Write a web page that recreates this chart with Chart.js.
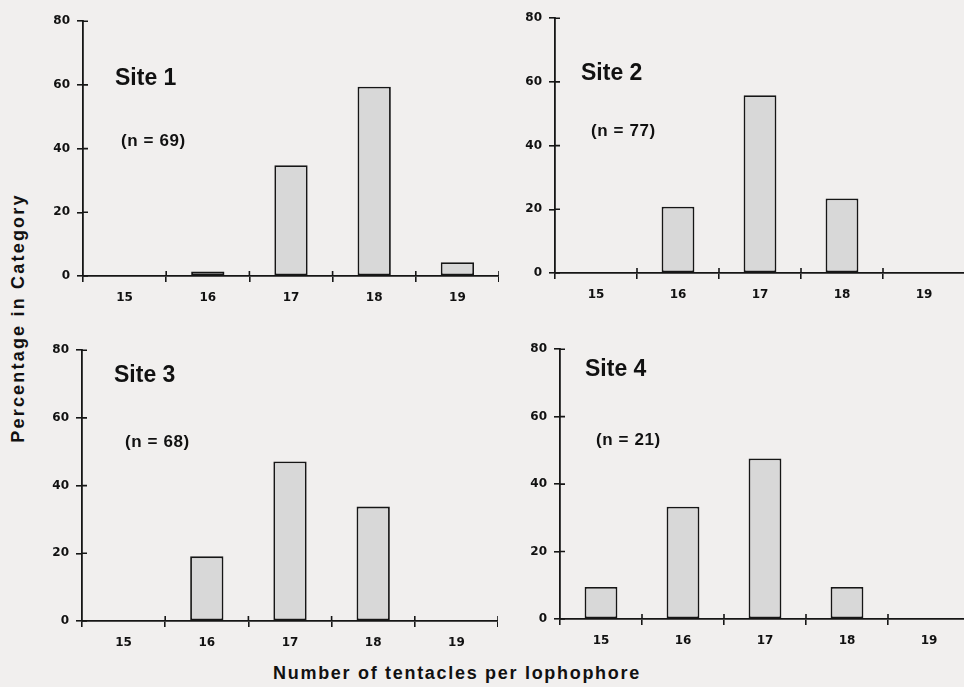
<!DOCTYPE html>
<html>
<head>
<meta charset="utf-8">
<script src="https://cdn.jsdelivr.net/npm/chart.js@4.4.1/dist/chart.umd.min.js"></script>
<style>
  html, body { margin:0; padding:0; width:964px; height:687px; overflow:hidden; background:#f1efee; }
  .panel { position:absolute; }
  .txt { position:absolute; font-family:"Liberation Sans", Arial, sans-serif; font-weight:bold; color:#111; line-height:1; white-space:nowrap; transform:translateY(-50%); }
  .site { font-size:23px; }
  .n { font-size:17px; letter-spacing:0.6px; }
  #ytitle { position:absolute; left:18px; top:318px; transform:translate(-50%,-50%) rotate(-90deg); font-family:"Liberation Sans", Arial, sans-serif; font-weight:bold; font-size:18px; letter-spacing:2.2px; color:#111; white-space:nowrap; }
  #xtitle { position:absolute; left:457px; top:673px; transform:translate(-50%,-50%); font-family:"Liberation Sans", Arial, sans-serif; font-weight:bold; font-size:18px; letter-spacing:1.7px; color:#111; white-space:nowrap; }
</style>
</head>
<body>
<script>
// ---- data ----
const categories = ['15', '16', '17', '18', '19'];
const site1 = [0, 1.4, 34.8, 59.4, 4.3];
const site2 = [0, 20.8, 55.8, 23.4, 0];
const site3 = [0, 19.1, 47.1, 33.8, 0];
const site4 = [9.5, 33.3, 47.6, 9.5, 0];
const siteNames = ['Site 1', 'Site 2', 'Site 3', 'Site 4'];
const sampleSizes = ['(n = 69)', '(n = 77)', '(n = 68)', '(n = 21)'];
const yTicks = [0, 20, 40, 60, 80];

// ---- layout (positions/sizes) ----
const Y_W = 52, X_H = 40, PAD_T = 10;
const panels = [
  { data: site1, L: 31,  T: 7,   W: 468, H: 309, site: [115, 77],  n: [121, 140] },
  { data: site2, L: 503, T: 4,   W: 462, H: 309, site: [581, 72],  n: [591, 130] },
  { data: site3, L: 30,  T: 336, W: 468, H: 325, site: [114, 374], n: [125, 441] },
  { data: site4, L: 508, T: 335, W: 462, H: 324, site: [585, 368], n: [596, 439] }
];

const INK = '#161616';

const crossTicks = {
  id: 'crossTicks',
  afterDraw(chart) {
    const ctx = chart.ctx, x = chart.scales.x, y = chart.scales.y, a = chart.chartArea;
    ctx.save();
    ctx.strokeStyle = INK;
    ctx.lineWidth = 1.6;
    ctx.beginPath();
    y.ticks.forEach(t => {
      const py = y.getPixelForValue(t.value);
      ctx.moveTo(a.left, py); ctx.lineTo(a.left + 5, py);
    });
    const n = x.ticks.length;
    const step = (a.right - a.left) / n;
    for (let i = 1; i <= n; i++) {
      const px = a.left + i * step;
      ctx.moveTo(px, a.bottom); ctx.lineTo(px, a.bottom - 5);
    }
    ctx.stroke();
    ctx.restore();
  }
};

const tickFont = { family: '"DejaVu Sans", sans-serif', weight: 'bold', size: 12 };

panels.forEach((p, i) => {
  const div = document.createElement('div');
  div.className = 'panel';
  div.style.left = p.L + 'px'; div.style.top = p.T + 'px';
  div.style.width = p.W + 'px'; div.style.height = p.H + 'px';
  const cv = document.createElement('canvas');
  div.appendChild(cv);
  document.body.appendChild(div);

  new Chart(cv, {
    type: 'bar',
    data: {
      labels: categories,
      datasets: [{
        data: p.data,
        backgroundColor: '#d8d8d8',
        borderColor: INK,
        borderWidth: 1.8,
        borderSkipped: false,
        barPercentage: 0.4,
        categoryPercentage: 1.0
      }]
    },
    options: {
      responsive: true,
      maintainAspectRatio: false,
      animation: false,
      layout: { padding: { top: PAD_T, right: 0, left: 0, bottom: 0 } },
      plugins: { legend: { display: false }, tooltip: { enabled: false } },
      scales: {
        x: {
          offset: true,
          grid: { display: true, offset: true, drawOnChartArea: false, drawTicks: true, tickLength: 6, color: INK, lineWidth: 1.6 },
          border: { display: true, color: INK, width: 1.8 },
          ticks: { font: tickFont, color: '#111', padding: 9, maxRotation: 0 },
          afterFit(s) { s.height = X_H; }
        },
        y: {
          min: 0, max: 80,
          afterBuildTicks(s) { s.ticks = yTicks.map(v => ({ value: v })); },
          grid: { display: true, drawOnChartArea: false, drawTicks: true, tickLength: 6, color: INK, lineWidth: 1.6 },
          border: { display: true, color: INK, width: 1.8 },
          ticks: { font: tickFont, color: '#111', padding: 7 },
          afterFit(s) { s.width = Y_W; }
        }
      }
    },
    plugins: [crossTicks]
  });

  const s = document.createElement('div');
  s.className = 'txt site';
  s.textContent = siteNames[i];
  s.style.left = p.site[0] + 'px'; s.style.top = p.site[1] + 'px';
  document.body.appendChild(s);

  const n = document.createElement('div');
  n.className = 'txt n';
  n.textContent = sampleSizes[i];
  n.style.left = p.n[0] + 'px'; n.style.top = p.n[1] + 'px';
  document.body.appendChild(n);
});

const yt = document.createElement('div');
yt.id = 'ytitle'; yt.textContent = 'Percentage in Category';
document.body.appendChild(yt);
const xt = document.createElement('div');
xt.id = 'xtitle'; xt.textContent = 'Number of tentacles per lophophore';
document.body.appendChild(xt);
</script>
</body>
</html>
